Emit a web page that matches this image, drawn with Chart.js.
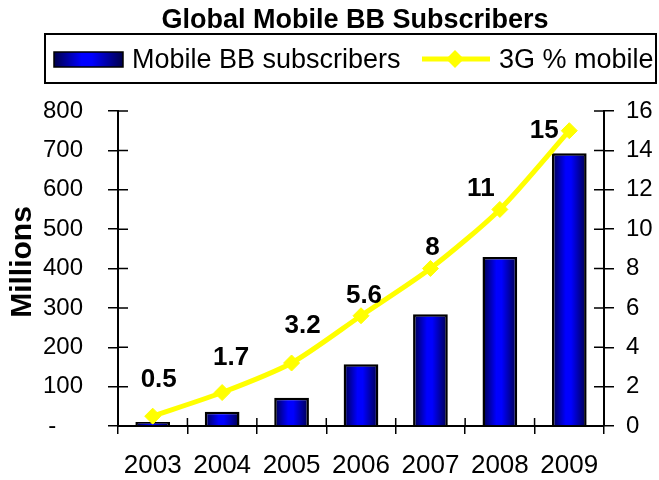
<!DOCTYPE html>
<html>
<head>
<meta charset="utf-8">
<script src="https://cdn.jsdelivr.net/npm/chart.js@4/dist/chart.umd.min.js"></script>
<style>
  html, body { margin: 0; padding: 0; background: #fff; }
  #wrap { width: 659px; height: 480px; }
</style>
</head>
<body>
<div id="wrap"><canvas id="c" width="659" height="480"></canvas></div>
<script>
// Chart data
const years = ['2003', '2004', '2005', '2006', '2007', '2008', '2009'];
const subscribers = [10, 36, 72, 157, 284, 429, 693];   // millions
const share3g = [0.5, 1.7, 3.2, 5.6, 8, 11, 15];        // % of mobile

const titleText = 'Global Mobile BB Subscribers';
const barLabel = 'Mobile BB subscribers';
const lineLabel = '3G % mobile';
const yTitle = 'Millions';

// Where each value label sits relative to its point (pixels)
const labelOffsets = [[6, -36], [9, -35], [11, -37], [3, -20], [2, -21], [-19, -21], [-25, 0]];

const FONT = 'Liberation Sans, Arial, Helvetica, sans-serif';
const YELLOW = '#ffff00';
Chart.defaults.font.family = FONT;
Chart.defaults.color = '#000';

function blueGradient(ctx, left, right) {
  const g = ctx.createLinearGradient(left, 0, right, 0);
  g.addColorStop(0, '#00004a');
  g.addColorStop(0.4, '#0000ff');
  g.addColorStop(0.55, '#0000ff');
  g.addColorStop(1, '#00004a');
  return g;
}

// Title, boxed legend and left axis title
const headerPlugin = {
  id: 'header',
  afterDraw(chart) {
    const ctx = chart.ctx;
    ctx.save();
    ctx.fillStyle = '#000';
    ctx.font = 'bold 27px ' + FONT;
    ctx.textAlign = 'center';
    ctx.textBaseline = 'alphabetic';
    ctx.fillText(titleText, 355, 28);

    // legend frame
    ctx.lineWidth = 2;
    ctx.strokeStyle = '#000';
    ctx.strokeRect(45, 34, 611, 49);

    // bar swatch
    ctx.fillStyle = blueGradient(ctx, 54, 123);
    ctx.fillRect(54, 52, 69, 15);
    ctx.lineWidth = 1.5;
    ctx.strokeRect(54, 52, 69, 15);

    ctx.fillStyle = '#000';
    ctx.font = '27px ' + FONT;
    ctx.textAlign = 'left';
    ctx.fillText(barLabel, 132, 68);

    // line swatch
    ctx.strokeStyle = YELLOW;
    ctx.lineWidth = 5;
    ctx.beginPath();
    ctx.moveTo(422, 59);
    ctx.lineTo(490, 59);
    ctx.stroke();
    ctx.fillStyle = YELLOW;
    ctx.beginPath();
    ctx.moveTo(455, 50); ctx.lineTo(464, 59); ctx.lineTo(455, 68); ctx.lineTo(446, 59);
    ctx.closePath();
    ctx.fill();

    ctx.fillStyle = '#000';
    ctx.fillText(lineLabel, 499, 68);

    // rotated axis title
    ctx.translate(23, 262);
    ctx.rotate(-Math.PI / 2);
    ctx.font = 'bold 30px ' + FONT;
    ctx.textAlign = 'center';
    ctx.textBaseline = 'middle';
    ctx.fillText(yTitle, 0, 0);
    ctx.restore();
  }
};

// Tick marks that cross each axis line
const crossTicksPlugin = {
  id: 'crossTicks',
  afterDatasetsDraw(chart) {
    const ctx = chart.ctx;
    const { x, y, y1 } = chart.scales;
    ctx.save();
    ctx.strokeStyle = '#000';
    ctx.lineWidth = 1.5;
    ctx.beginPath();
    y.ticks.forEach(t => {
      const py = y.getPixelForValue(t.value);
      ctx.moveTo(y.right, py); ctx.lineTo(y.right + 10, py);
    });
    y1.ticks.forEach(t => {
      const py = y1.getPixelForValue(t.value);
      ctx.moveTo(y1.left, py); ctx.lineTo(y1.left - 10, py);
    });
    const step = x.width / years.length;
    for (let i = 0; i <= years.length; i++) {
      const px = x.getPixelForValue(0) - step / 2 + i * step;
      ctx.moveTo(px, x.top); ctx.lineTo(px, x.top - 8);
    }
    ctx.stroke();
    ctx.restore();
  }
};

// Bold value labels for the 3G share line
const valueLabelsPlugin = {
  id: 'valueLabels',
  afterDatasetsDraw(chart) {
    const ctx = chart.ctx;
    const meta = chart.getDatasetMeta(1);
    ctx.save();
    ctx.fillStyle = '#000';
    ctx.font = 'bold 26px ' + FONT;
    ctx.textAlign = 'center';
    ctx.textBaseline = 'middle';
    meta.data.forEach((pt, i) => {
      const [dx, dy] = labelOffsets[i];
      ctx.fillText(String(share3g[i]), pt.x + dx, pt.y + dy);
    });
    ctx.restore();
  }
};

new Chart(document.getElementById('c'), {
  data: {
    labels: years,
    datasets: [
      {
        type: 'bar',
        label: barLabel,
        data: subscribers,
        yAxisID: 'y',
        order: 2,
        barPercentage: 0.5,
        categoryPercentage: 1,
        borderColor: '#000',
        borderWidth: 2.5,
        borderSkipped: 'bottom',
        backgroundColor: (c) => {
          const chart = c.chart;
          const xs = chart.scales.x;
          if (!chart.chartArea || !xs || c.dataIndex === undefined) return '#0000cc';
          const cx = xs.getPixelForValue(c.dataIndex);
          const w = xs.width / years.length * 0.5;
          return blueGradient(chart.ctx, cx - w / 2, cx + w / 2);
        }
      },
      {
        type: 'line',
        label: lineLabel,
        data: share3g,
        yAxisID: 'y1',
        order: 1,
        borderColor: YELLOW,
        borderWidth: 5,
        tension: 0.25,
        pointStyle: 'rectRot',
        pointRadius: 8,
        pointBackgroundColor: YELLOW,
        pointBorderColor: YELLOW,
        pointBorderWidth: 1,
        clip: false
      }
    ]
  },
  options: {
    responsive: false,
    animation: false,
    devicePixelRatio: 1,
    layout: { padding: { top: 111, left: 0, right: 0, bottom: 0 } },
    plugins: {
      legend: { display: false },
      title: { display: false },
      tooltip: { enabled: false }
    },
    scales: {
      x: {
        offset: true,
        grid: { offset: true, drawOnChartArea: false, drawTicks: true, tickLength: 8, color: '#000', lineWidth: 1.5 },
        border: { display: true, color: '#000', width: 2 },
        ticks: { font: { size: 26 }, color: '#000', padding: 16, maxRotation: 0, autoSkip: false },
        afterFit: s => { s.height = 54; }
      },
      y: {
        position: 'left',
        min: 0,
        max: 800,
        grid: { drawOnChartArea: false, drawTicks: true, tickLength: 10, color: '#000', lineWidth: 1.5 },
        border: { display: true, color: '#000', width: 2 },
        ticks: {
          stepSize: 100,
          font: { size: 24 },
          color: '#000',
          padding: 25,
          callback: v => (v === 0 ? '-    ' : String(v))
        },
        afterFit: s => { s.width = 118; }
      },
      y1: {
        position: 'right',
        min: 0,
        max: 16,
        grid: { drawOnChartArea: false, drawTicks: true, tickLength: 10, color: '#000', lineWidth: 1.5 },
        border: { display: true, color: '#000', width: 2 },
        ticks: { stepSize: 2, font: { size: 24 }, color: '#000', padding: 12 },
        afterFit: s => { s.width = 55; }
      }
    }
  },
  plugins: [headerPlugin, crossTicksPlugin, valueLabelsPlugin]
});
</script>
</body>
</html>
